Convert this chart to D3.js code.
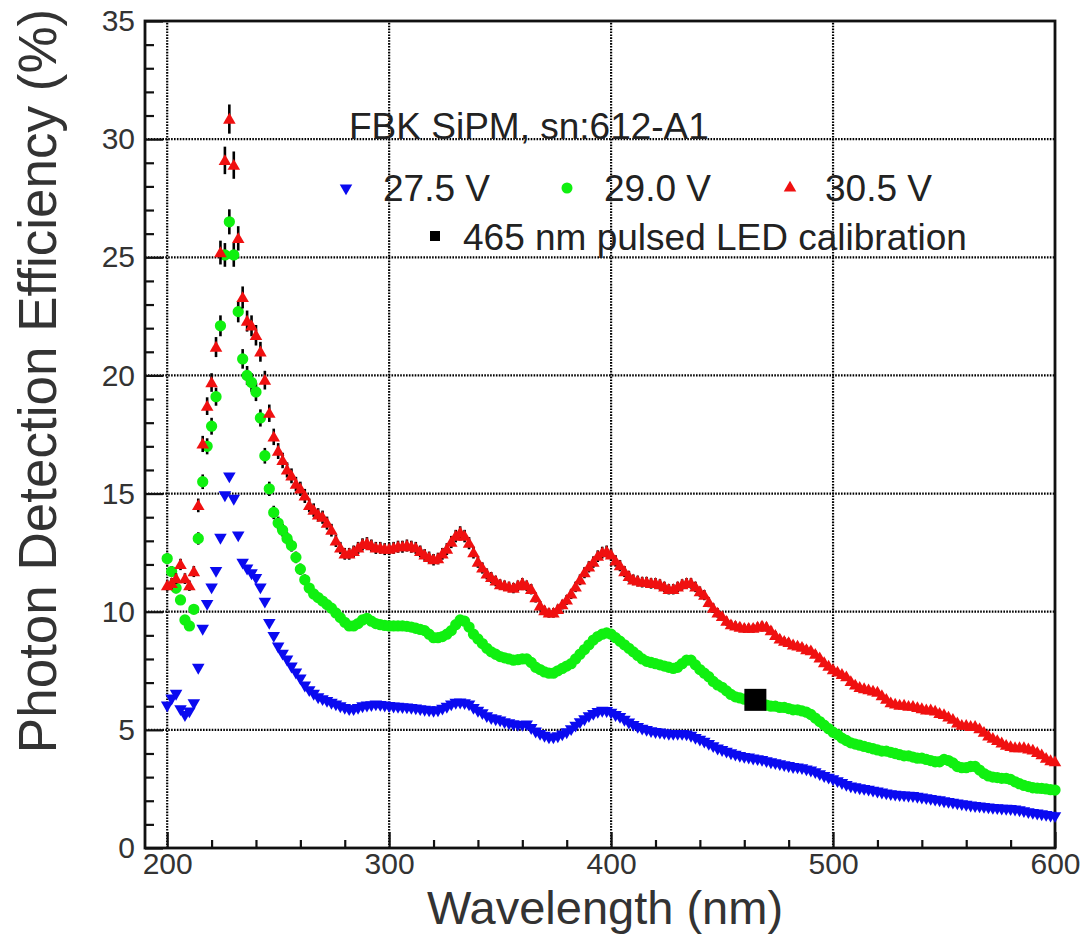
<!DOCTYPE html>
<html><head><meta charset="utf-8">
<script src="https://cdn.jsdelivr.net/npm/d3@7"></script>
<style>
body{margin:0;background:#fff}
svg{display:block}
text{font-family:"Liberation Sans",Arial,Helvetica,sans-serif}
</style>
</head><body>
<svg id="chart" width="1086" height="935"></svg>
<script>
// ---------------- data ----------------
const wavelengths = [
200,202,204,206,208,210,212,214,216,218,220,222,224,226,228,230,232,234,236,238,
240,242,244,246,248,250,252,254,256,258,260,262,264,266,268,270,272,274,276,278,
280,282,284,286,288,290,292,294,296,298,300,302,304,306,308,310,312,314,316,318,
320,322,324,326,328,330,332,334,336,338,340,342,344,346,348,350,352,354,356,358,
360,362,364,366,368,370,372,374,376,378,380,382,384,386,388,390,392,394,396,398,
400,402,404,406,408,410,412,414,416,418,420,422,424,426,428,430,432,434,436,438,
440,442,444,446,448,450,452,454,456,458,460,462,464,466,468,470,472,474,476,478,
480,482,484,486,488,490,492,494,496,498,500,502,504,506,508,510,512,514,516,518,
520,522,524,526,528,530,532,534,536,538,540,542,544,546,548,550,552,554,556,558,
560,562,564,566,568,570,572,574,576,578,580,582,584,586,588,590,592,594,596,598,600];

const pde275V = [
6.0,6.3,6.5,5.85,5.6,5.75,6.1,7.6,9.25,10.3,
11.0,11.7,13.1,14.9,15.7,14.75,13.2,12.05,11.8,11.6,
11.4,11.0,10.4,9.5,8.95,8.5,8.2,7.95,7.65,7.4,
7.15,6.85,6.65,6.5,6.35,6.27,6.2,6.12,6.05,5.97,
5.9,5.85,5.85,5.9,5.97,6.0,6.02,6.05,6.03,6.0,
5.98,5.96,5.95,5.93,5.92,5.9,5.88,5.85,5.82,5.8,
5.78,5.8,5.87,5.95,6.05,6.12,6.13,6.1,6.05,5.9,
5.78,5.68,5.55,5.47,5.42,5.37,5.3,5.25,5.21,5.18,
5.18,5.2,5.05,4.9,4.8,4.72,4.65,4.65,4.7,4.78,
4.87,5.0,5.15,5.3,5.42,5.55,5.65,5.73,5.78,5.77,
5.7,5.6,5.52,5.4,5.28,5.18,5.1,5.02,4.97,4.92,
4.88,4.86,4.83,4.8,4.8,4.8,4.8,4.78,4.72,4.63,
4.56,4.47,4.38,4.28,4.18,4.12,4.05,3.98,3.92,3.87,
3.83,3.8,3.76,3.73,3.7,3.65,3.6,3.56,3.52,3.48,
3.44,3.4,3.38,3.35,3.3,3.25,3.18,3.1,3.02,2.95,
2.88,2.8,2.72,2.64,2.58,2.54,2.5,2.47,2.44,2.4,
2.36,2.32,2.28,2.25,2.23,2.21,2.2,2.18,2.17,2.14,
2.11,2.08,2.05,2.02,1.99,1.95,1.92,1.89,1.86,1.83,
1.8,1.77,1.75,1.73,1.71,1.69,1.67,1.66,1.64,1.63,
1.62,1.6,1.57,1.53,1.49,1.46,1.43,1.4,1.37,1.34,
1.32];

const pde290V = [
12.25,11.7,11.0,10.5,9.65,9.4,10.1,13.1,15.5,17.0,
17.85,19.1,22.1,25.1,26.5,25.1,22.7,20.7,20.0,19.7,
19.3,18.2,16.6,15.2,14.2,13.75,13.45,13.1,12.8,12.3,
11.8,11.35,11.0,10.75,10.6,10.45,10.3,10.15,9.95,9.75,
9.55,9.4,9.4,9.5,9.65,9.72,9.6,9.5,9.45,9.42,
9.4,9.4,9.4,9.4,9.38,9.35,9.3,9.25,9.2,9.05,
8.9,8.9,8.95,9.05,9.2,9.45,9.65,9.6,9.35,9.05,
8.85,8.65,8.45,8.3,8.2,8.1,8.05,8.0,7.95,7.97,
8.0,8.0,7.85,7.65,7.55,7.45,7.4,7.4,7.5,7.6,
7.7,7.8,8.0,8.2,8.4,8.6,8.8,8.95,9.05,9.1,
9.05,8.9,8.75,8.6,8.45,8.3,8.15,8.0,7.9,7.85,
7.8,7.75,7.7,7.65,7.6,7.65,7.8,7.95,7.95,7.75,
7.55,7.4,7.25,7.05,6.9,6.8,6.65,6.5,6.4,6.35,
6.3,6.25,6.2,6.15,6.1,6.05,6.0,6.0,5.95,5.95,
5.9,5.85,5.85,5.8,5.75,5.65,5.5,5.35,5.2,5.05,
4.9,4.8,4.65,4.55,4.45,4.4,4.35,4.3,4.25,4.2,
4.15,4.1,4.1,4.05,4.0,3.95,3.9,3.9,3.85,3.8,
3.8,3.75,3.7,3.65,3.65,3.75,3.7,3.6,3.45,3.4,
3.4,3.45,3.45,3.3,3.15,3.05,3.0,2.98,2.95,2.95,
2.9,2.8,2.72,2.65,2.6,2.55,2.53,2.52,2.5,2.47,
2.45];

const pde305V = [
11.1,11.2,11.4,12.0,11.4,11.1,11.7,14.5,17.1,18.7,
19.7,21.2,25.2,29.1,30.85,28.9,25.8,23.3,22.3,22.1,
21.7,21.0,19.8,18.4,17.4,16.8,16.4,16.0,15.75,15.4,
15.2,14.9,14.5,14.3,14.1,14.0,13.75,13.45,13.0,12.7,
12.45,12.45,12.55,12.7,12.85,12.9,12.8,12.7,12.7,12.65,
12.65,12.7,12.75,12.75,12.8,12.75,12.7,12.55,12.4,12.3,
12.2,12.25,12.45,12.65,12.95,13.2,13.35,13.2,12.9,12.5,
12.1,11.85,11.6,11.45,11.3,11.15,11.1,11.05,11.0,11.1,
11.2,11.1,10.95,10.6,10.25,10.05,9.95,9.95,10.1,10.3,
10.5,10.75,11.05,11.35,11.65,11.9,12.1,12.35,12.5,12.55,
12.4,12.15,11.95,11.7,11.5,11.35,11.3,11.25,11.25,11.2,
11.2,11.15,11.05,10.95,10.95,11.05,11.15,11.2,11.2,11.05,
10.85,10.7,10.4,10.15,9.95,9.8,9.6,9.45,9.4,9.35,
9.3,9.3,9.3,9.35,9.4,9.35,9.2,9.0,8.85,8.75,
8.7,8.6,8.55,8.5,8.4,8.35,8.2,8.05,7.85,7.7,
7.55,7.45,7.35,7.25,7.05,6.9,6.8,6.75,6.7,6.65,
6.6,6.45,6.3,6.15,6.1,6.05,6.05,6.0,6.0,5.95,
5.9,5.85,5.85,5.8,5.7,5.65,5.55,5.45,5.3,5.2,
5.2,5.15,5.15,5.05,4.9,4.75,4.65,4.55,4.45,4.35,
4.3,4.25,4.25,4.25,4.2,4.15,4.05,3.95,3.8,3.7,
3.65];

const relError = [0, 0.02, 0.02];          // relative error bars per series
const ledWavelength = [465];
const ledPDE = [6.27];

const seriesLabels = ["27.5 V", "29.0 V", "30.5 V"];
const ledLabel = "465 nm pulsed LED calibration";
const deviceLabel = "FBK SiPM, sn:612-A1";
const xTickValues = [200, 300, 400, 500, 600];
const yTickValues = [0, 5, 10, 15, 20, 25, 30, 35];
const xTitle = "Wavelength (nm)";
const yTitle = "Photon Detection Efficiency (%)";

// ---------------- chart ----------------
const svg = d3.select("#chart");
const L = 145, R = 1055, T = 21, B = 848;
const x = d3.scaleLinear().domain([190, 600]).range([L, R]);
const y = d3.scaleLinear().domain([0, 35]).range([B, T]);

svg.append("rect").attr("width", 1086).attr("height", 935).attr("fill", "#fff");

// grid (dotted)
const grid = svg.append("g").attr("stroke", "#000").attr("stroke-width", 2.2)
  .attr("stroke-dasharray", "1.6,1.3").attr("fill", "none");
grid.selectAll("line.v").data(xTickValues.filter(d => d < 600)).join("line")
  .attr("class", "v")
  .attr("x1", d => x(d)).attr("x2", d => x(d)).attr("y1", y(0)).attr("y2", y(35));
grid.selectAll("line.h").data(yTickValues.filter(d => d > 0 && d < 35)).join("line")
  .attr("class", "h")
  .attr("x1", L).attr("x2", R).attr("y1", d => y(d)).attr("y2", d => y(d));

// axes (inward ticks)
const xMinor = d3.range(200, 601, 20).filter(d => !xTickValues.includes(d));
const yMinor = d3.range(0, 36, 1).filter(d => !yTickValues.includes(d));

const gx = svg.append("g").attr("transform", `translate(0,${B})`)
  .call(d3.axisBottom(x).tickValues(xTickValues).tickSize(-16).tickPadding(5).tickFormat(d3.format("d")));
const gxm = svg.append("g").attr("transform", `translate(0,${B})`)
  .call(d3.axisBottom(x).tickValues(xMinor).tickSize(-8).tickFormat(""));
const gy = svg.append("g").attr("transform", `translate(${L},0)`)
  .call(d3.axisLeft(y).tickValues(yTickValues).tickSize(-18).tickPadding(10).tickFormat(d3.format("d")));
const gym = svg.append("g").attr("transform", `translate(${L},0)`)
  .call(d3.axisLeft(y).tickValues(yMinor).tickSize(-9).tickFormat(""));
[gx, gxm, gy, gym].forEach(g => {
  g.select(".domain").remove();
  g.selectAll(".tick line").attr("stroke", "#111").attr("stroke-width", 2.2);
  g.selectAll("text").attr("font-size", 30).attr("fill", "#333");
});

// frame
svg.append("rect").attr("x", L).attr("y", T).attr("width", R - L).attr("height", B - T)
  .attr("fill", "none").attr("stroke", "#111").attr("stroke-width", 2.8);

// series
const colors = ["#0a0af0", "#10f010", "#f01010"];
const symbols = [
  d3.symbol(d3.symbolTriangle).size(68),
  d3.symbol(d3.symbolCircle).size(100),
  d3.symbol(d3.symbolTriangle).size(68)
];
const rotations = [180, 0, 0];
const seriesValues = [pde275V, pde290V, pde305V];

seriesValues.forEach((vals, si) => {
  const pts = wavelengths.map((w, i) => ({w, v: vals[i]}));
  const g = svg.append("g");
  if (relError[si] > 0) {
    g.selectAll("line.err").data(pts).join("line")
      .attr("x1", d => x(d.w)).attr("x2", d => x(d.w))
      .attr("y1", d => y(d.v * (1 - relError[si]))).attr("y2", d => y(d.v * (1 + relError[si])))
      .attr("stroke", "#000").attr("stroke-width", 2.6);
  }
  g.selectAll("path.m").data(pts).join("path")
    .attr("d", symbols[si])
    .attr("transform", d => `translate(${x(d.w)},${y(d.v) + (si === 0 ? -1 : si === 2 ? 1 : 0)}) rotate(${rotations[si]})`)
    .attr("fill", colors[si]);
});

// LED calibration point
svg.selectAll("rect.led").data(ledWavelength.map((w, i) => ({w, v: ledPDE[i]}))).join("rect")
  .attr("x", d => x(d.w) - 11).attr("y", d => y(d.v) - 11)
  .attr("width", 22).attr("height", 22).attr("fill", "#000");

// legend
const lg = svg.append("g").attr("fill", "#222").attr("font-size", 37);
lg.append("text").attr("x", 349).attr("y", 139).text(deviceLabel);
const legX = [346, 567, 790];
const legTextX = [383, 604, 825];
seriesLabels.forEach((lab, i) => {
  lg.append("path").attr("d", d3.symbol(i === 1 ? d3.symbolCircle : d3.symbolTriangle).size(i === 1 ? 95 : 68))
    .attr("transform", `translate(${legX[i]},${188}) rotate(${rotations[i]})`)
    .attr("fill", colors[i]);
  lg.append("text").attr("x", legTextX[i]).attr("y", 201).text(lab);
});
lg.append("rect").attr("x", 430).attr("y", 231).attr("width", 10).attr("height", 10).attr("fill", "#000");
lg.append("text").attr("x", 463).attr("y", 250).text(ledLabel);

// axis titles
svg.append("text").attr("x", 605).attr("y", 924).attr("text-anchor", "middle")
  .attr("font-size", 47).attr("fill", "#333").text(xTitle);
svg.append("text").attr("transform", "translate(56,381) rotate(-90)").attr("text-anchor", "middle")
  .attr("font-size", 53).attr("fill", "#333").text(yTitle);
</script>
</body></html>
